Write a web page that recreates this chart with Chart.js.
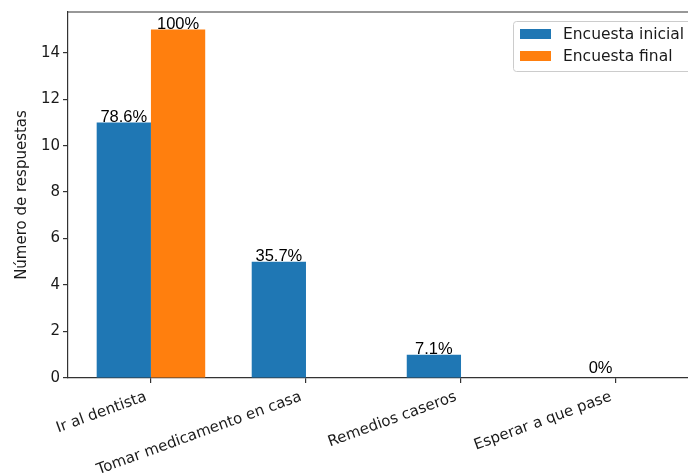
<!DOCTYPE html>
<html>
<head>
<meta charset="utf-8">
<script src="https://cdn.jsdelivr.net/npm/chart.js@4"></script>
<style>
  html, body { margin: 0; padding: 0; background: #fff; overflow: hidden; }
  #wrap { width: 688px; height: 473px; overflow: hidden; }
</style>
</head>
<body>
<div id="wrap"><canvas id="chart" width="720" height="473"></canvas></div>
<script>
// Datos
const categories = ['Ir al dentista', 'Tomar medicamento en casa', 'Remedios caseros', 'Esperar a que pase'];
const inicial = [11, 5, 1, 0];
const final = [15, 0, 0, 0];
const yTicks = [0, 2, 4, 6, 8, 10, 12, 14];
// etiquetas de porcentaje (posición en unidades de datos)
const pctText = ['78.6%', '100%', '35.7%', '7.1%', '0%'];
const pctX = [-0.175, 0.175, 0.825, 1.825, 2.9];
const pctY = [11, 15, 5, 1, 0.2];

const BLUE = '#1f77b4';
const ORANGE = '#ff7f0e';
const AXIS = '#333333';
const FONT = '"DejaVu Sans", sans-serif';

// Ejes superior/derecho, etiquetas de porcentaje y leyenda
const extras = {
    id: 'extras',
    afterDraw(chart) {
        const ctx = chart.ctx;
        const a = chart.chartArea;
        const xs = chart.scales.x, ys = chart.scales.y;
        ctx.save();
        ctx.strokeStyle = AXIS;
        ctx.lineWidth = 1.2;
        ctx.beginPath();
        ctx.moveTo(a.left, a.top);
        ctx.lineTo(a.right, a.top);
        ctx.lineTo(a.right, a.bottom);
        ctx.stroke();

        // porcentajes
        ctx.fillStyle = '#000';
        ctx.font = '16.5px "Liberation Sans", Arial, sans-serif';
        ctx.textAlign = 'center';
        ctx.textBaseline = 'alphabetic';
        pctText.forEach((t, i) => {
            ctx.fillText(t, xs.getPixelForValue(pctX[i]), ys.getPixelForValue(pctY[i]) - 0.5);
        });

        // leyenda
        const lw = 179, lh = 50;
        const lx = a.right - 7 - lw, ly = a.top + 9;
        ctx.fillStyle = 'rgba(255,255,255,0.8)';
        ctx.strokeStyle = '#cccccc';
        ctx.lineWidth = 1;
        ctx.beginPath();
        ctx.roundRect(lx + 0.5, ly + 0.5, lw, lh, 3);
        ctx.fill();
        ctx.stroke();
        const items = [{ label: 'Encuesta inicial', color: BLUE }, { label: 'Encuesta final', color: ORANGE }];
        ctx.font = '15.5px ' + FONT;
        ctx.textAlign = 'left';
        ctx.textBaseline = 'middle';
        items.forEach((it, i) => {
            const cy = ly + 13 + i * 22;
            ctx.fillStyle = it.color;
            ctx.fillRect(lx + 7, cy - 5, 31, 10);
            ctx.fillStyle = '#1a1a1a';
            ctx.fillText(it.label, lx + 50, cy + 1);
        });
        ctx.restore();
    }
};

new Chart(document.getElementById('chart'), {
    type: 'bar',
    data: {
        datasets: [
            { label: 'Encuesta inicial', data: inicial.map((v, i) => ({ x: i, y: v })), backgroundColor: BLUE },
            { label: 'Encuesta final', data: final.map((v, i) => ({ x: i, y: v })), backgroundColor: ORANGE }
        ]
    },
    options: {
        responsive: false,
        animation: false,
        categoryPercentage: 0.7,
        barPercentage: 1.0,
        layout: { padding: { top: 8, right: 21, left: 0, bottom: 0 } },
        plugins: {
            legend: { display: false },
            tooltip: { enabled: false }
        },
        scales: {
            x: {
                type: 'linear',
                offset: false,
                min: -0.535,
                max: 3.535,
                afterBuildTicks: axis => { axis.ticks = categories.map((c, i) => ({ value: i })); },
                afterFit: axis => { axis.height = 95; },
                grid: { offset: false, drawOnChartArea: false, drawTicks: true, tickLength: 5, color: AXIS, lineWidth: 1.2 },
                border: { display: true, color: AXIS, width: 1.2 },
                ticks: {
                    autoSkip: false,
                    minRotation: 20,
                    maxRotation: 20,
                    padding: 5,
                    labelOffset: -5,
                    color: '#1a1a1a',
                    font: { family: FONT, size: 15 },
                    callback: v => categories[v]
                }
            },
            y: {
                min: 0,
                max: 15.75,
                afterBuildTicks: axis => { axis.ticks = yTicks.map(v => ({ value: v })); },
                afterFit: axis => { axis.width = 68; },
                grid: { drawOnChartArea: false, drawTicks: true, tickLength: 5, color: AXIS, lineWidth: 1.2 },
                border: { display: true, color: AXIS, width: 1.2 },
                ticks: {
                    padding: 3,
                    color: '#1a1a1a',
                    font: { family: FONT, size: 15 }
                },
                title: {
                    display: true,
                    text: 'Número de respuestas',
                    color: '#1a1a1a',
                    padding: { top: 13, bottom: 0 },
                    font: { family: FONT, size: 15 }
                }
            }
        }
    },
    plugins: [extras]
});
</script>
</body>
</html>
